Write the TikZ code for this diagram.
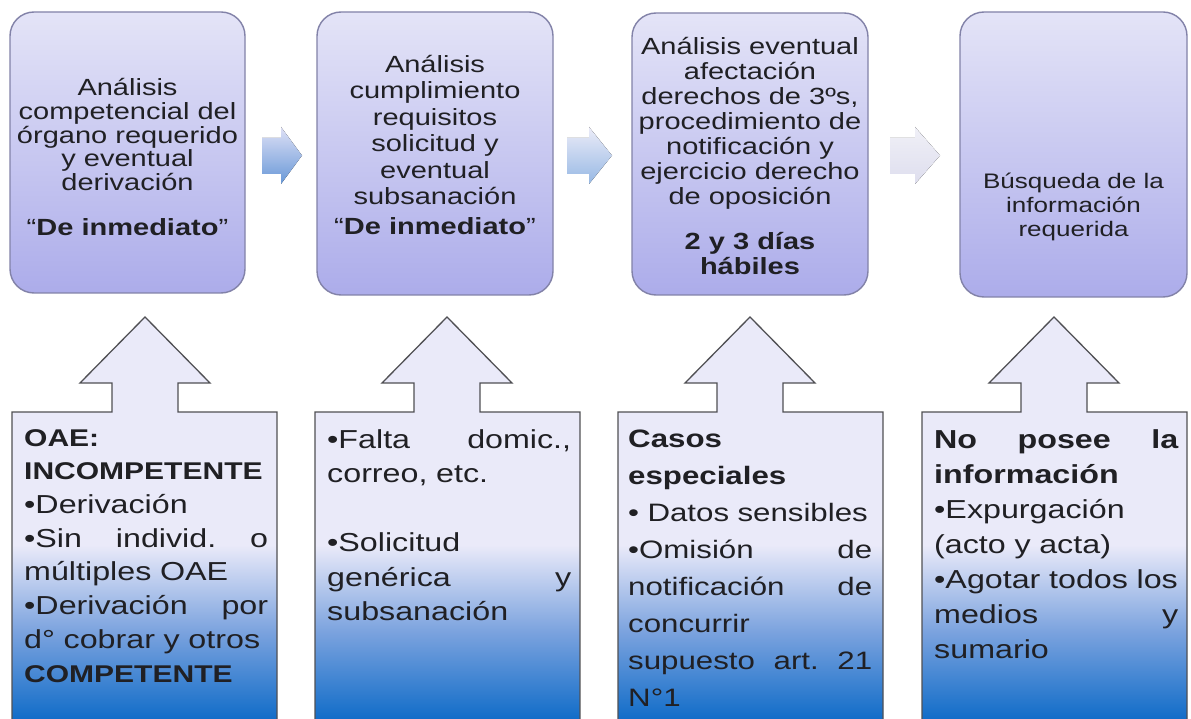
\documentclass[tikz,border=0pt]{standalone}
\usepackage{fontspec}
\setmainfont{Liberation Sans}[FakeStretch=1.24]
\definecolor{boxtop}{RGB}{228,228,247}
\definecolor{boxbot}{RGB}{172,172,234}
\definecolor{boxline}{RGB}{130,130,168}
\definecolor{callav}{RGB}{234,234,249}
\definecolor{calmid}{RGB}{122,162,222}
\definecolor{calblue}{RGB}{16,108,200}
\definecolor{callinecol}{RGB}{80,80,84}
\definecolor{txt}{RGB}{32,32,36}
\definecolor{aonetop}{RGB}{222,224,246}
\definecolor{aonebot}{RGB}{104,152,215}
\definecolor{atwotop}{RGB}{236,236,248}
\definecolor{atwobot}{RGB}{150,184,228}
\definecolor{athrtop}{RGB}{240,240,247}
\definecolor{athrbot}{RGB}{222,222,238}
\tikzset{
  stepbox/.style={draw=boxline, line width=1.4pt, rounded corners=24pt,
    top color=boxtop, bottom color=boxbot, inner sep=0pt},
  toptext/.style={align=center, inner sep=0pt, text=txt, anchor=north},
  caltext/.style={text width=245pt, align=left, inner sep=0pt, text=txt, anchor=north west},
  calline/.style={draw=callinecol, line width=1.3pt, line join=miter},
}
\newcommand\jline[1]{\leavevmode\hbox to 244pt{#1}}
\newcommand\upcallout[3]{%
  \begin{scope}
    \clip (#1,725) -- (#1,412) -- (#3-33,412) -- (#3-33,383) -- (#3-65,383) -- (#3,317)
      -- (#3+65,383) -- (#3+33,383) -- (#3+33,412) -- (#2,412) -- (#2,725) -- cycle;
    \fill[callav] (#1,300) rectangle (#2,725);
    \shade[top color=callav, bottom color=calblue, middle color=calmid] (#1,545) rectangle (#2,720);
  \end{scope}
  \draw[calline] (#1,725) -- (#1,412) -- (#3-33,412) -- (#3-33,383) -- (#3-65,383) -- (#3,317)
      -- (#3+65,383) -- (#3+33,383) -- (#3+33,412) -- (#2,412) -- (#2,725);
}
\newcommand\smallarrow[5]{%
  \fill[top color=#4, bottom color=#5] (#1,138) -- (#2,138) -- (#2,127) -- (#3,155.5)
    -- (#2,184) -- (#2,174) -- (#1,174) -- cycle;
}
\begin{document}
\lineskiplimit=-100pt\relax
\begin{tikzpicture}[x=1pt,y=-1pt]
\useasboundingbox (0,0) rectangle (1191,719);
\fill[white] (0,0) rectangle (1191,719);

% top boxes
\node[stepbox, minimum width=235pt, minimum height=281pt] (box1) at (127.5,152.5) {};
\node[stepbox, minimum width=236pt, minimum height=283pt] (box2) at (435,153.5) {};
\node[stepbox, minimum width=236pt, minimum height=282pt] (box3) at (750,154) {};
\node[stepbox, minimum width=227pt, minimum height=285pt] (box4) at (1073.5,154.5) {};

% small arrows
\smallarrow{262}{281}{302}{aonetop}{aonebot}
\smallarrow{567}{589}{612}{atwotop}{atwobot}
\smallarrow{890}{915}{940}{athrtop}{athrbot}

% top texts
\node[toptext, font=\fontsize{23.4}{23.8}\selectfont] (t1) at (127.5,78) {%
Análisis\\competencial del\\órgano requerido\\y eventual\\derivación\\[21pt]“\textbf{De inmediato}”};
\node[toptext, font=\fontsize{23.4}{26.4}\selectfont] (t2) at (435,55) {%
Análisis\\cumplimiento\\requisitos\\solicitud y\\eventual\\subsanación\\[4pt]“\textbf{De inmediato}”};
\node[toptext, font=\fontsize{23.4}{25}\selectfont] (t3) at (750,37) {%
Análisis eventual\\afectación\\derechos de 3ºs,\\procedimiento de\\notificación y\\ejercicio derecho\\de oposición\\[20pt]\textbf{2 y 3 días}\\\textbf{hábiles}};
\node[toptext, font=\fontsize{21}{24}\selectfont] (t4) at (1073.5,173) {%
Búsqueda de la\\información\\requerida};

% callouts
\upcallout{12}{277}{145}
\upcallout{315}{580}{447}
\upcallout{618}{883}{750}
\upcallout{922}{1187}{1054}

\node[caltext, font=\fontsize{26}{33.7}\selectfont] (c1) at (24,429) {%
{\fontsize{24.2}{33.7}\selectfont\bfseries OAE:\\INCOMPETENTE}\\
•Derivación\\
\jline{•Sin\hfill individ.\hfill o}\\
múltiples OAE\\
\jline{•Derivación\hfill por}\\
\jline{d° cobrar y otros}\\
{\fontsize{24.2}{33.7}\selectfont\bfseries COMPETENTE}};

\node[caltext, font=\fontsize{26}{34.5}\selectfont] (c2) at (327,429) {%
\jline{•Falta\hfill domic.,}\\
correo, etc.\\
\mbox{}\\
•Solicitud\\
\jline{genérica\hfill y}\\
subsanación};

\node[caltext, font=\fontsize{25.2}{37}\selectfont] (c3) at (628,430) {%
\textbf{Casos}\\
\textbf{especiales}\\
\mbox{• Datos sensibles}\\
\jline{•Omisión\hfill de}\\
\jline{notificación\hfill de}\\
concurrir\\
\jline{supuesto\hfill art.\hfill 21}\\
N°1};

\node[caltext, font=\fontsize{26}{35}\selectfont] (c4) at (934,429) {%
\jline{\bfseries No\hfill posee\hfill la}\\
\textbf{información}\\
•Expurgación\\
(acto y acta)\\
\mbox{•Agotar todos los}\\
\jline{medios\hfill y}\\
sumario};
\end{tikzpicture}
\end{document}
